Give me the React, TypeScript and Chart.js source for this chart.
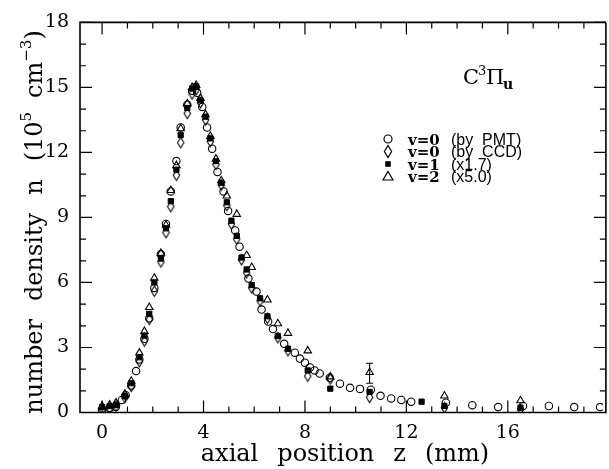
import React, { useEffect, useRef } from "react";
import { Chart, registerables } from "chart.js";

Chart.register(...registerables);

// ---- data (axial position z in mm, density n in 1e5 cm^-3) ----
const pmtZ = [0.0, 0.3, 0.54, 0.78, 0.93, 1.15, 1.34, 1.47, 1.67, 1.86, 2.06, 2.32, 2.52, 2.71, 2.93, 3.1, 3.36, 3.55, 3.75, 3.95, 4.14, 4.34, 4.55, 4.79, 4.97, 5.25, 5.42, 5.77, 6.09, 6.29, 6.55, 6.74, 7.18, 7.6, 7.8, 8.0, 8.2, 8.38, 8.58, 8.98, 9.38, 9.78, 10.17, 10.6, 10.98, 11.4, 11.8, 12.19, 13.56, 14.6, 15.62, 16.6, 17.62, 18.62, 19.64];
const pmtN = [0.12, 0.2, 0.25, 0.58, 0.8, 1.25, 1.91, 2.45, 3.4, 4.35, 5.75, 7.3, 8.7, 10.2, 11.6, 13.15, 14.2, 14.85, 14.75, 14.1, 13.15, 12.17, 11.1, 10.2, 9.3, 8.4, 7.65, 6.18, 5.58, 4.75, 4.2, 3.85, 3.17, 2.76, 2.49, 2.3, 2.08, 1.94, 1.8, 1.6, 1.33, 1.14, 1.09, 1.05, 0.77, 0.65, 0.58, 0.5, 0.45, 0.34, 0.25, 0.3, 0.3, 0.25, 0.25];

const ccdZ = [0.0, 0.3, 0.55, 0.9, 1.15, 1.47, 1.67, 1.86, 2.06, 2.32, 2.52, 2.71, 2.93, 3.1, 3.36, 3.55, 3.71, 3.88, 4.08, 4.27, 4.49, 4.7, 4.92, 5.1, 5.31, 5.5, 5.7, 5.9, 6.23, 6.52, 6.93, 7.33, 8.11, 9.0, 10.55, 13.5, 16.5];
const ccdN = [0.15, 0.2, 0.3, 0.7, 1.2, 2.35, 3.3, 4.3, 5.6, 6.95, 8.3, 9.5, 10.95, 12.45, 13.8, 14.7, 14.9, 14.3, 13.5, 12.5, 11.45, 10.5, 9.55, 8.7, 8.0, 7.05, 6.45, 5.75, 5.15, 4.35, 3.45, 2.85, 1.68, 1.55, 0.7, 0.22, 0.15];

const v1Z = [0.0, 0.3, 0.55, 0.9, 1.15, 1.47, 1.67, 1.86, 2.06, 2.32, 2.52, 2.71, 2.93, 3.1, 3.36, 3.55, 3.71, 3.88, 4.08, 4.27, 4.49, 4.7, 4.92, 5.1, 5.31, 5.5, 5.7, 5.9, 6.23, 6.52, 6.93, 7.33, 8.11, 9.0, 10.55, 12.6, 13.5, 16.5];
const v1N = [0.25, 0.3, 0.35, 0.75, 1.35, 2.55, 3.55, 4.55, 6.0, 7.1, 8.5, 9.75, 11.2, 12.8, 14.05, 14.95, 15.05, 14.4, 13.65, 12.65, 11.6, 10.6, 9.7, 8.85, 8.15, 7.15, 6.6, 5.88, 5.27, 4.44, 3.53, 2.94, 1.94, 1.1, 0.95, 0.5, 0.3, 0.22];

const v2Z = [0.0, 0.3, 0.55, 0.9, 1.15, 1.47, 1.67, 1.86, 2.06, 2.32, 2.52, 2.71, 2.93, 3.1, 3.36, 3.55, 3.71, 3.88, 4.08, 4.27, 4.49, 4.7, 4.92, 5.31, 5.7, 5.9, 6.52, 6.93, 7.33, 8.11, 9.0, 10.55, 13.5, 16.5];
const v2N = [0.3, 0.35, 0.45, 0.85, 1.45, 2.75, 3.75, 4.85, 6.2, 7.35, 8.65, 10.25, 11.4, 13.1, 14.25, 15.0, 15.1, 14.5, 13.75, 12.75, 11.7, 10.7, 10.0, 9.15, 7.25, 6.7, 5.2, 4.1, 3.66, 2.85, 1.65, 1.85, 0.77, 0.55];

const errZ = [10.55];
const errLow = [1.35];
const errHigh = [2.27];

const xMajorTicks = [0, 4, 8, 12, 16];
const xMinorTicks = [0, 1, 2, 3, 4, 5, 6, 7, 8, 9, 10, 11, 12, 13, 14, 15, 16, 17, 18, 19];
const yMajorTicks = [0, 3, 6, 9, 12, 15, 18];
const yMinorTicks = [0, 1, 2, 3, 4, 5, 6, 7, 8, 9, 10, 11, 12, 13, 14, 15, 16, 17, 18];

const legendLabels = ["v=0", "v=0", "v=1", "v=2"];
const legendNotes = ["(by  PMT)", "(by  CCD)", "(x1.7)", "(x5.0)"];
const legendMarkers = ["circle", "diamond", "square", "triangle"];

const X_MIN = -0.871;
const X_MAX = 19.75;

const SERIF = "'DejaVu Serif', serif";
const SANS = "'Liberation Sans', Arial, sans-serif";

function pts(zs: number[], ns: number[]) {
  return zs.map((z, i) => ({ x: z, y: ns[i] }));
}

function makeDiamond(w: number, h: number, lw: number) {
  const c = document.createElement("canvas");
  c.width = Math.ceil(w + lw * 2 + 2);
  c.height = Math.ceil(h + lw * 2 + 2);
  const g = c.getContext("2d")!;
  const cx = c.width / 2, cy = c.height / 2;
  g.strokeStyle = "#000";
  g.lineWidth = lw;
  g.beginPath();
  g.moveTo(cx, cy - h / 2);
  g.lineTo(cx + w / 2, cy);
  g.lineTo(cx, cy + h / 2);
  g.lineTo(cx - w / 2, cy);
  g.closePath();
  g.stroke();
  return c;
}

function drawMarker(ctx: CanvasRenderingContext2D, kind: string, x: number, y: number) {
  ctx.save();
  ctx.strokeStyle = "#000";
  ctx.fillStyle = "#000";
  ctx.lineWidth = 1.2;
  ctx.beginPath();
  if (kind === "circle") {
    ctx.arc(x, y, 4, 0, Math.PI * 2);
    ctx.stroke();
  } else if (kind === "diamond") {
    ctx.moveTo(x, y - 6);
    ctx.lineTo(x + 3.6, y);
    ctx.lineTo(x, y + 6);
    ctx.lineTo(x - 3.6, y);
    ctx.closePath();
    ctx.stroke();
  } else if (kind === "square") {
    ctx.fillRect(x - 2.8, y - 2.8, 5.6, 5.6);
  } else {
    ctx.moveTo(x, y - 5);
    ctx.lineTo(x + 5, y + 3.5);
    ctx.lineTo(x - 5, y + 3.5);
    ctx.closePath();
    ctx.stroke();
  }
  ctx.restore();
}

type Piece = { t: string; sup?: boolean; gap?: number };

function drawPieces(ctx: CanvasRenderingContext2D, pieces: Piece[], size: number, supSize: number, supRise: number) {
  let total = 0;
  const widths: number[] = [];
  for (const p of pieces) {
    if (p.gap) { widths.push(p.gap); total += p.gap; continue; }
    ctx.font = `${p.sup ? supSize : size}px ${SERIF}`;
    const w = ctx.measureText(p.t).width;
    widths.push(w);
    total += w;
  }
  let x = -total / 2;
  pieces.forEach((p, i) => {
    if (!p.gap) {
      ctx.font = `${p.sup ? supSize : size}px ${SERIF}`;
      ctx.fillText(p.t, x, p.sup ? -supRise : 0);
    }
    x += widths[i];
  });
}

const decor = {
  id: "decor",
  afterDraw(chart: any) {
    const ctx: CanvasRenderingContext2D = chart.ctx;
    const { left, right, top, bottom } = chart.chartArea;
    const xs = chart.scales.x;
    const ys = chart.scales.y;
    const rightSpine = right + 3;
    ctx.save();
    ctx.strokeStyle = "#000";
    ctx.fillStyle = "#000";

    // frame (right spine lies just beyond the cropped edge)
    ctx.lineWidth = 1.6;
    ctx.beginPath();
    ctx.moveTo(rightSpine, top);
    ctx.lineTo(left, top);
    ctx.lineTo(left, bottom);
    ctx.lineTo(rightSpine, bottom);
    ctx.lineTo(rightSpine, top);
    ctx.stroke();

    // inward ticks
    ctx.lineWidth = 1.2;
    ctx.beginPath();
    for (const v of xMinorTicks) {
      const px = xs.getPixelForValue(v);
      const len = xMajorTicks.includes(v) ? 12 : 6;
      ctx.moveTo(px, bottom);
      ctx.lineTo(px, bottom - len);
      ctx.moveTo(px, top);
      ctx.lineTo(px, top + len);
    }
    for (const v of yMinorTicks) {
      const py = ys.getPixelForValue(v);
      const len = yMajorTicks.includes(v) ? 12 : 6;
      ctx.moveTo(left, py);
      ctx.lineTo(left + len, py);
      ctx.moveTo(rightSpine, py);
      ctx.lineTo(rightSpine - len, py);
    }
    ctx.stroke();

    // error bars
    ctx.lineWidth = 1.1;
    ctx.beginPath();
    errZ.forEach((z, i) => {
      const px = xs.getPixelForValue(z);
      const p1 = ys.getPixelForValue(errLow[i]);
      const p2 = ys.getPixelForValue(errHigh[i]);
      ctx.moveTo(px, p1);
      ctx.lineTo(px, p2);
      ctx.moveTo(px - 3.5, p1);
      ctx.lineTo(px + 3.5, p1);
      ctx.moveTo(px - 3.5, p2);
      ctx.lineTo(px + 3.5, p2);
    });
    ctx.stroke();

    // legend
    const rowY = [139, 151.5, 164, 176.5];
    legendLabels.forEach((lab, i) => {
      const y = rowY[i];
      drawMarker(ctx, legendMarkers[i], 388, y);
      ctx.font = `bold 15px ${SERIF}`;
      ctx.textBaseline = "alphabetic";
      ctx.textAlign = "left";
      ctx.fillText(lab, 408, y + 5.5);
      ctx.font = `16px ${SANS}`;
      ctx.fillText(legendNotes[i], 451, y + 5.5);
    });

    // species label C^3 Pi_u
    ctx.textAlign = "left";
    ctx.textBaseline = "alphabetic";
    ctx.font = `21px ${SERIF}`;
    ctx.fillText("C", 463, 84);
    ctx.font = `13px ${SERIF}`;
    ctx.fillText("3", 478, 75);
    ctx.font = `21px ${SERIF}`;
    ctx.fillText("\u03A0", 486, 84);
    ctx.font = `bold 14px ${SERIF}`;
    ctx.fillText("u", 503, 89);

    // x axis title
    ctx.save();
    ctx.translate(345, 461);
    drawPieces(ctx, [
      { t: "axial" }, { t: "", gap: 19 }, { t: "position" }, { t: "", gap: 19 },
      { t: "z" }, { t: "", gap: 19 }, { t: "(mm)" },
    ], 24, 15, 11);
    ctx.restore();

    // y axis title
    ctx.save();
    ctx.translate(42, 222);
    ctx.rotate(-Math.PI / 2);
    drawPieces(ctx, [
      { t: "number" }, { t: "", gap: 18 }, { t: "density" }, { t: "", gap: 18 },
      { t: "n" }, { t: "", gap: 18 }, { t: "(10" }, { t: "5", sup: true }, { t: "", gap: 14 },
      { t: "cm" }, { t: "\u22123", sup: true }, { t: ")" },
    ], 24, 15, 11);
    ctx.restore();

    ctx.restore();
  },
};

export default function App() {
  const ref = useRef<HTMLCanvasElement | null>(null);
  useEffect(() => {
    if (!ref.current) return;
    const diamond = makeDiamond(6.4, 10.5, 1.1);
    const tickFont = { family: SERIF, size: 19 };
    const chart = new Chart(ref.current, {
      type: "scatter",
      data: {
        datasets: [
          {
            label: "v=1 (x1.7)",
            data: pts(v1Z, v1N),
            pointStyle: "rect",
            pointRadius: 3.7,
            backgroundColor: "#000",
            borderColor: "#000",
            borderWidth: 1,
          },
          {
            label: "v=0 (by PMT)",
            data: pts(pmtZ, pmtN),
            pointStyle: "circle",
            pointRadius: 3.7,
            backgroundColor: "rgba(0,0,0,0)",
            borderColor: "#000",
            borderWidth: 1.1,
          },
          {
            label: "v=0 (by CCD)",
            data: pts(ccdZ, ccdN),
            pointStyle: diamond as any,
            pointRadius: 5,
            backgroundColor: "rgba(0,0,0,0)",
            borderColor: "#000",
            borderWidth: 1.1,
          },
          {
            label: "v=2 (x5.0)",
            data: pts(v2Z, v2N),
            pointStyle: "triangle",
            pointRadius: 4.3,
            backgroundColor: "rgba(0,0,0,0)",
            borderColor: "#000",
            borderWidth: 1.1,
          },
        ],
      },
      options: {
        animation: false,
        responsive: false,
        devicePixelRatio: 1,
        layout: { padding: { top: 17, right: 1, left: 0, bottom: 0 } },
        plugins: { legend: { display: false }, tooltip: { enabled: false } },
        scales: {
          x: {
            type: "linear",
            min: X_MIN,
            max: X_MAX,
            grid: { display: false, drawTicks: false, tickLength: 0 },
            border: { display: false },
            ticks: { color: "#000", font: tickFont, padding: 9, maxRotation: 0, autoSkip: false },
            afterBuildTicks: (s: any) => { s.ticks = xMajorTicks.map((v) => ({ value: v })); },
            afterFit: (s: any) => { s.height = 56.5; },
          },
          y: {
            type: "linear",
            min: 0,
            max: 18,
            grid: { display: false, drawTicks: false, tickLength: 0 },
            border: { display: false },
            ticks: { color: "#000", font: tickFont, padding: 11, autoSkip: false },
            afterBuildTicks: (s: any) => { s.ticks = yMajorTicks.map((v) => ({ value: v })); },
            afterFit: (s: any) => { s.width = 80; },
          },
        },
      },
      plugins: [decor],
    });
    return () => chart.destroy();
  }, []);
  return (
    <div style={{ position: "absolute", left: 0, top: 0, width: 609, height: 469, background: "#fff" }}>
      <canvas ref={ref} width={609} height={469} style={{ display: "block" }} />
    </div>
  );
}
